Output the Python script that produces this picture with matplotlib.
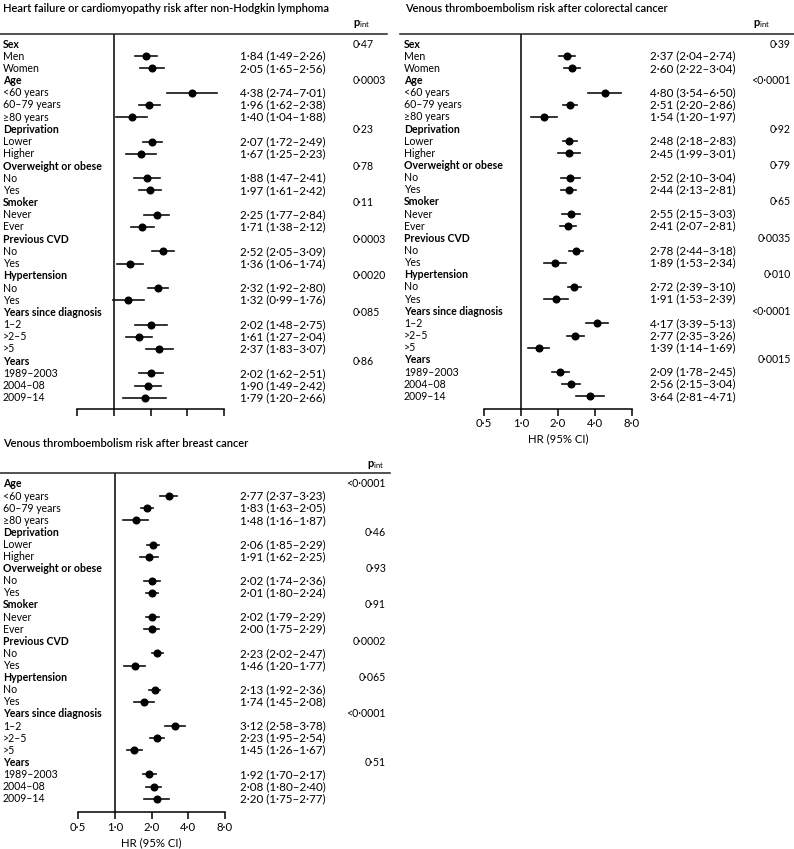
"""Forest plots: HR by subgroup for three cancer/outcome pairs"""

import matplotlib
matplotlib.use('Agg')
import matplotlib.pyplot as plt
from matplotlib.transforms import blended_transform_factory
from matplotlib.lines import Line2D
from matplotlib.ticker import NullLocator

plt.rcParams['font.family'] = ['Lato', 'DejaVu Sans']
plt.rcParams['mathtext.fontset'] = 'custom'
plt.rcParams['mathtext.rm'] = 'Lato'
plt.rcParams['mathtext.bf'] = 'Lato:bold'

W, H = 794, 849  # figure size in pixels

# ############################################################################ #
# Data #

groups = ['Sex', 'Age', 'Deprivation', 'Overweight or obese', 'Smoker',
	'Previous CVD', 'Hypertension', 'Years since diagnosis', 'Years']
subgroups = [
	['Men', 'Women'], ['<60 years', '60–79 years', '≥80 years'], ['Lower', 'Higher'],
	['No', 'Yes'], ['Never', 'Ever'], ['No', 'Yes'], ['No', 'Yes'],
	['1–2', '>2–5', '>5'], ['1989–2003', '2004–08', '2009–14']
]

# Heart failure or cardiomyopathy after non-Hodgkin lymphoma
nhl_p  = ['0·47', '0·0003', '0·23', '0·78', '0·11', '0·0003', '0·0020', '0·085', '0·86']
nhl_hr = [1.84, 2.05, 4.38, 1.96, 1.40, 2.07, 1.67, 1.88, 1.97, 2.25, 1.71,
	2.52, 1.36, 2.32, 1.32, 2.02, 1.61, 2.37, 2.02, 1.90, 1.79]
nhl_lo = [1.49, 1.65, 2.74, 1.62, 1.04, 1.72, 1.25, 1.47, 1.61, 1.77, 1.38,
	2.05, 1.06, 1.92, 0.99, 1.48, 1.27, 1.83, 1.62, 1.49, 1.20]
nhl_hi = [2.26, 2.56, 7.01, 2.38, 1.88, 2.49, 2.23, 2.41, 2.42, 2.84, 2.12,
	3.09, 1.74, 2.80, 1.76, 2.75, 2.04, 3.07, 2.51, 2.42, 2.66]

# Venous thromboembolism after colorectal cancer
crc_p  = ['0·39', '<0·0001', '0·92', '0·79', '0·65', '0·0035', '0·010', '<0·0001', '0·0015']
crc_hr = [2.37, 2.60, 4.80, 2.51, 1.54, 2.48, 2.45, 2.52, 2.44, 2.55, 2.41,
	2.78, 1.89, 2.72, 1.91, 4.17, 2.77, 1.39, 2.09, 2.56, 3.64]
crc_lo = [2.04, 2.22, 3.54, 2.20, 1.20, 2.18, 1.99, 2.10, 2.13, 2.15, 2.07,
	2.44, 1.53, 2.39, 1.53, 3.39, 2.35, 1.14, 1.78, 2.15, 2.81]
crc_hi = [2.74, 3.04, 6.50, 2.86, 1.97, 2.83, 3.01, 3.04, 2.81, 3.03, 2.81,
	3.18, 2.34, 3.10, 2.39, 5.13, 3.26, 1.69, 2.45, 3.04, 4.71]

# Venous thromboembolism after breast cancer (no sex split)
brc_p  = ['<0·0001', '0·46', '0·93', '0·91', '0·0002', '0·065', '<0·0001', '0·51']
brc_hr = [2.77, 1.83, 1.48, 2.06, 1.91, 2.02, 2.01, 2.02, 2.00,
	2.23, 1.46, 2.13, 1.74, 3.12, 2.23, 1.45, 1.92, 2.08, 2.20]
brc_lo = [2.37, 1.63, 1.16, 1.85, 1.62, 1.74, 1.80, 1.79, 1.75,
	2.02, 1.20, 1.92, 1.45, 2.58, 1.95, 1.26, 1.70, 1.80, 1.75]
brc_hi = [3.23, 2.05, 1.87, 2.29, 2.25, 2.36, 2.24, 2.29, 2.29,
	2.47, 1.77, 2.36, 2.08, 3.78, 2.54, 1.67, 2.17, 2.40, 2.77]

xticks = [0.5, 1, 2, 4, 8]
xtick_labels = ['0·5', '1·0', '2·0', '4·0', '8·0']

FS = 7.6      # row labels and p values
FS_HR = 8.4   # HR (95% CI) column
FS_AX = 8.2   # tick labels and axis label

def fmt(v):
	return ('%.2f' % v).replace('.', '·')

# ############################################################################ #
# Panel drawing #

def forest(fig, title, lGroups, lSubs, lP, aHr, aLo, aHi, dPos, bLabels):
	"""Draw one forest panel, all positions given in pixels via dPos"""
	x0, x1, yTop, yBot = dPos['axis']
	y0, dy = dPos['row0'], dPos['dy']

	ax = fig.add_axes([x0/W, 1 - yBot/H, (x1 - x0)/W, (yBot - yTop)/H])
	ax.set_xscale('log', base=2)
	ax.set_xlim(0.5, 8)
	ax.set_ylim((yBot - y0)/dy, (yTop - y0)/dy)
	for s in ('left', 'top', 'right'):
		ax.spines[s].set_visible(False)
	ax.spines['bottom'].set_linewidth(1.1)
	ax.set_yticks([])
	ax.set_xticks(xticks)
	ax.xaxis.set_minor_locator(NullLocator())
	ax.tick_params(axis='x', direction='out', length=5, width=1.1, labelsize=FS_AX, pad=2)
	if bLabels:
		ax.set_xticklabels(xtick_labels)
		ax.set_xlabel('HR (95% CI)', fontsize=FS_AX, labelpad=3)
	else:
		ax.set_xticklabels([])
	ax.axvline(1, color='black', lw=1.1)

	trans = blended_transform_factory(fig.transFigure, ax.transData)

	fig.text(dPos['title'][0]/W, 1 - dPos['title'][1]/H, title, fontsize=8.0,
		weight='semibold', ha='left', va='center')
	fig.text(dPos['pint'][0]/W, 1 - dPos['pint'][1]/H, r'$\mathbf{p}_{\mathrm{int}}$',
		fontsize=8, ha='left', va='center')
	rx0, rx1 = dPos['rule']
	fig.add_artist(Line2D([rx0/W, rx1/W], [1 - yTop/H, 1 - yTop/H],
		transform=fig.transFigure, color='#222222', lw=1.1))

	iRow = 0
	k = 0
	for g, subs, p in zip(lGroups, lSubs, lP):
		ax.text(dPos['lab']/W, iRow, g, transform=trans, fontsize=FS,
			weight='bold', ha='left', va='center')
		ax.text(dPos['p'][0]/W, iRow, p, transform=trans, fontsize=FS,
			ha=dPos['p'][1], va='center')
		iRow += 1
		for s in subs:
			ax.text(dPos['lab']/W, iRow, s, transform=trans, fontsize=FS,
				ha='left', va='center')
			ax.plot([aLo[k], aHi[k]], [iRow, iRow], '-', color='#111111', lw=1.2,
				clip_on=False)
			ax.plot(aHr[k], iRow, 'o', color='black', ms=4.8, clip_on=False)
			ax.text(dPos['hr']/W, iRow, '%s (%s–%s)' % (fmt(aHr[k]), fmt(aLo[k]), fmt(aHi[k])),
				transform=trans, fontsize=FS_HR, ha='left', va='center')
			iRow += 1
			k += 1
	return ax


def main():
	fig = plt.figure(figsize=(W/100, H/100), dpi=100)

	forest(fig, 'Heart failure or cardiomyopathy risk after non-Hodgkin lymphoma',
		groups, subgroups, nhl_p, nhl_hr, nhl_lo, nhl_hi,
		{'axis': (77, 224, 34, 409), 'row0': 44, 'dy': 12.2, 'title': (3, 8),
		 'pint': (353, 24), 'rule': (0, 387), 'lab': 3, 'hr': 240, 'p': (353, 'left')},
		False)

	forest(fig, 'Venous thromboembolism risk after colorectal cancer',
		groups, subgroups, crc_p, crc_hr, crc_lo, crc_hi,
		{'axis': (484, 632, 34, 408.5), 'row0': 44, 'dy': 12.15, 'title': (405, 8),
		 'pint': (753, 24), 'rule': (400, 794), 'lab': 404, 'hr': 650, 'p': (791, 'right')},
		True)

	forest(fig, 'Venous thromboembolism risk after breast cancer',
		groups[1:], subgroups[1:], brc_p, brc_hr, brc_lo, brc_hi,
		{'axis': (78, 225, 473, 812), 'row0': 484, 'dy': 12.1, 'title': (3, 443),
		 'pint': (367, 465), 'rule': (0, 390), 'lab': 3, 'hr': 240, 'p': (386, 'right')},
		True)

	fig.savefig('out.png', dpi=100)


if __name__ == "__main__":
	main()
